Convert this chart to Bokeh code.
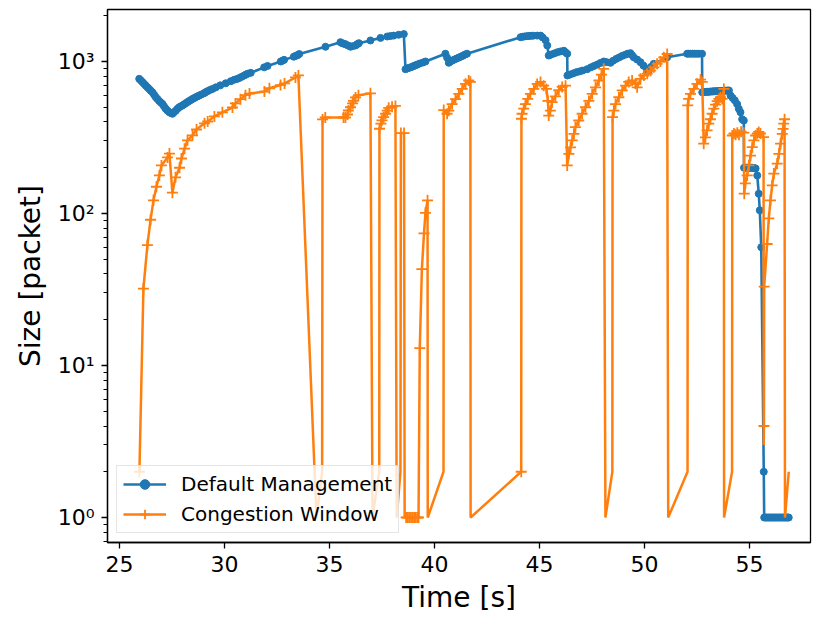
from bokeh.plotting import figure
from bokeh.models import Range1d, FixedTicker, Legend, LegendItem
from bokeh.embed import file_html
from bokeh.resources import INLINE

# Default Management (time [s], size [packet])
t_default = [25.94, 26.02, 26.10, 26.18, 26.25, 26.33, 26.41, 26.49, 26.57, 26.65, 26.73, 26.81,
             26.89, 26.97, 27.05, 27.12, 27.20, 27.28, 27.37, 27.45, 27.52, 27.60, 27.68, 27.76,
             27.84, 27.92, 28.00, 28.08, 28.16, 28.24, 28.32, 28.40, 28.48, 28.55, 28.63, 28.72,
             28.80, 28.90, 29.03, 29.10, 29.19, 29.30, 29.43, 29.59, 29.80, 30.06, 30.30, 30.46,
             30.60, 30.70, 30.82, 30.94, 31.02, 31.10, 31.25, 31.89, 32.05, 32.68, 32.76, 32.84,
             33.30, 33.40, 33.48, 33.56, 34.81, 35.52, 35.60, 35.68, 35.76, 35.88, 36.00, 36.10,
             36.24, 36.32, 36.40, 36.95, 37.43, 37.75, 37.90, 38.06, 38.30, 38.54,
             38.62, 38.70, 38.78, 38.86, 38.95, 39.02, 39.10, 39.18, 39.30, 39.45, 39.57,
             40.52, 40.60, 40.68, 40.76, 40.85, 40.95, 41.05, 41.15, 41.25, 41.35, 41.45, 41.55,
             44.10, 44.20, 44.30, 44.40, 44.50, 44.60, 44.70, 44.89, 45.05, 45.15, 45.29, 45.37,
             45.44, 45.55, 45.70, 45.85, 46.00, 46.16, 46.24, 46.32, 46.33, 46.45, 46.60, 46.75,
             46.90, 47.05, 47.27, 47.45, 47.60, 47.75, 47.90, 48.06, 48.20, 48.38, 48.50, 48.65,
             48.80, 48.95, 49.10, 49.20, 49.33, 49.41, 49.49, 49.65, 49.81, 49.95, 50.10, 50.20,
             50.30, 50.44, 51.08, 52.03, 52.10, 52.20, 52.30, 52.40, 52.50, 52.60, 52.74,
             52.75, 52.82, 52.88, 52.95, 53.02, 53.08, 53.15, 53.22, 53.28, 53.35, 53.42, 53.48,
             53.55, 53.62, 53.68, 53.75, 53.82, 53.88, 53.95, 54.02, 54.10, 54.20, 54.30, 54.41,
             54.49, 54.57, 54.65, 54.73, 54.74, 54.80, 54.85, 54.90, 54.95, 55.00, 55.05, 55.10,
             55.15, 55.22, 55.29, 55.37, 55.44, 55.49, 55.56, 55.68, 55.70, 55.76, 55.82, 55.88,
             55.94, 56.00, 56.06, 56.12, 56.18, 56.24, 56.30, 56.36, 56.42, 56.48, 56.54, 56.60,
             56.66, 56.72, 56.78, 56.83, 56.87]
y_default = [769, 750, 731, 712, 694, 677, 660, 643, 627, 605, 582, 566,
             550, 537, 525, 507, 489, 476, 464, 458, 453, 464, 475, 488,
             500, 507, 514, 523, 532, 541, 550, 558, 567, 574, 582, 590,
             597, 607, 618, 628, 638, 649, 660, 676, 697, 719, 742, 758,
             768, 778, 793, 809, 820, 831, 842, 915, 935, 1000, 1012, 1025,
             1075, 1090, 1100, 1120, 1250, 1340, 1320, 1310, 1300, 1275, 1250, 1262,
             1275, 1300, 1320, 1375, 1430, 1460, 1470, 1480, 1500, 1515,
             890, 900, 908, 915, 925, 935, 945, 955, 970, 985, 1000,
             1125, 1060, 980, 1000, 1015, 1030, 1045, 1060, 1075, 1090, 1110, 1125,
             1445, 1455, 1462, 1468, 1472, 1476, 1478, 1480, 1480, 1440, 1380, 1275,
             1095, 1110, 1130, 1150, 1165, 1177, 1150, 1125, 809, 820, 835, 850,
             860, 872, 890, 915, 935, 955, 978, 1000, 990, 980, 1010, 1040,
             1065, 1090, 1110, 1125, 1135, 1100, 1065, 1030, 990, 940, 890, 870,
             920, 965, 1065, 1125, 1125, 1125, 1125, 1125, 1125, 1125, 1125,
             627, 629, 630, 631, 632, 633, 634, 635, 636, 637, 638, 638,
             639, 640, 640, 641, 642, 643, 644, 645, 597, 575, 555, 525,
             489, 464, 417, 409, 200, 200, 200, 200, 200, 200, 200, 200,
             200, 199, 198, 178, 135, 105, 60, 2, 1, 1, 1, 1,
             1, 1, 1, 1, 1, 1, 1, 1, 1, 1, 1, 1,
             1, 1, 1, 1, 1]

# Congestion Window (time [s], size [packet])
t_cwnd = [25.95, 26.14, 26.33, 26.48, 26.62, 26.76, 26.90, 27.00, 27.29, 27.38, 27.52, 27.67,
          27.86, 27.95, 28.10, 28.24, 28.48, 28.67, 29.05, 29.20, 29.52, 29.90, 30.38, 30.52,
          30.76, 31.00, 31.19, 31.90, 32.14, 32.67, 32.86, 33.38, 33.52,
          34.38, 34.65, 34.67, 34.80, 35.67, 35.76, 35.86, 35.90, 36.00, 36.10, 36.14, 36.24,
          36.38, 36.95, 37.05, 37.37, 37.38, 37.45, 37.50, 37.58, 37.67, 37.75, 37.82, 37.98,
          38.14, 38.20, 38.38, 38.40, 38.55, 38.58, 38.65, 38.73, 38.80, 38.88, 38.95, 39.03,
          39.10, 39.18, 39.24, 39.30, 39.40, 39.50, 39.57, 39.67, 39.68, 40.43,
          40.44, 40.60, 40.68, 40.84, 41.00, 41.16, 41.32, 41.48, 41.63, 41.71, 41.72, 44.13,
          44.14, 44.17, 44.25, 44.33, 44.44, 44.57, 44.73, 44.89, 45.05, 45.20, 45.33, 45.40,
          45.44, 45.52, 45.60, 45.76, 45.92, 46.08, 46.24, 46.32, 46.40, 46.48, 46.56, 46.64,
          46.71, 46.87, 47.03, 47.19, 47.35, 47.51, 47.67, 47.83, 47.95, 48.06, 48.14, 48.47,
          48.48, 48.54, 48.62, 48.78, 48.94, 49.10, 49.25, 49.41, 49.57, 49.65, 49.81, 49.97,
          50.13, 50.29, 50.44, 50.60, 50.76, 50.92, 51.08, 51.13, 52.05,
          52.06, 52.10, 52.19, 52.35, 52.50, 52.67, 52.75, 52.82, 52.90, 52.98, 53.06, 53.14,
          53.22, 53.30, 53.38, 53.46, 53.54, 53.62, 53.70, 53.78, 53.79, 54.17,
          54.18, 54.26, 54.34, 54.42, 54.50, 54.60, 54.73, 54.75, 54.80, 54.89, 54.97, 55.05,
          55.13, 55.21, 55.29, 55.37, 55.44, 55.52, 55.67, 55.68, 55.69, 55.70, 55.84, 55.92,
          56.00, 56.08, 56.16, 56.32, 56.40, 56.48, 56.56, 56.60, 56.63, 56.67, 56.69, 56.87]
y_cwnd = [2, 32, 62, 91, 122, 150, 178, 207, 234, 248, 137, 173,
          200, 230, 267, 303, 327, 357, 392, 403, 435, 463, 498, 530,
          565, 600, 615, 634, 667, 700, 717, 785, 810,
          1, 2, 416, 428, 428, 428, 448, 476, 500, 530, 550, 580,
          600, 617, 1, 2, 361, 390, 410, 430, 453, 475, 496, 503,
          510, 1, 2, 338, 338, 1, 1, 1, 1, 1, 1, 1,
          1, 1, 1, 13, 43, 74, 101, 122, 1, 2,
          479, 453, 475, 525, 565, 612, 660, 713, 750, 735, 1, 2,
          420, 453, 489, 525, 567, 613, 660, 712, 734, 693, 660, 550,
          441, 475, 540, 590, 647, 680, 693, 207, 247, 272, 303, 334,
          370, 409, 453, 500, 550, 612, 676, 750, 820, 895, 1, 2,
          430, 475, 525, 582, 645, 693, 734, 750, 713, 676, 769, 809,
          831, 870, 915, 965, 1000, 1065, 1120, 1, 2,
          514, 567, 613, 660, 713, 760, 734, 288, 317, 352, 390, 417,
          453, 489, 521, 548, 567, 582, 567, 660, 1, 2,
          326, 336, 330, 340, 330, 345, 340, 135, 158, 178, 207, 240,
          273, 303, 326, 336, 344, 336, 318, 3, 4, 33, 63, 93,
          122, 153, 183, 213, 247, 288, 334, 360, 390, 417, 1, 2]
# times of the low turning points that show no "+" marker in the picture
t_cwnd_unmarked = [34.38, 34.65, 37.05, 37.37, 38.20, 38.38, 38.58, 39.68, 40.43, 41.72,
                   48.14, 48.47, 51.13, 52.05, 53.79, 54.17, 55.68, 56.69, 56.87]

x_ticks = [25, 30, 35, 40, 45, 50, 55]
y_ticks = [1, 10, 100, 1000]
y_tick_labels = ["10\u2070", "10\u00b9", "10\u00b2", "10\u00b3"]
y_minor = [0.7, 0.8, 0.9, 2, 3, 4, 5, 6, 7, 8, 9, 20, 30, 40, 50, 60, 70, 80, 90,
           200, 300, 400, 500, 600, 700, 800, 900, 2000]

BLUE = "#1f77b4"
ORANGE = "#ff7f0e"
FONT = "DejaVu Sans"

mk = [(t, y) for t, y in zip(t_cwnd, y_cwnd) if t not in t_cwnd_unmarked]
t_mk = [a for a, _ in mk]
y_mk = [b for _, b in mk]

p = figure(width=813, height=619, y_axis_type="log", output_backend="svg",
           toolbar_location=None, x_range=Range1d(24.43, 57.905),
           y_range=Range1d(0.685, 2198),
           min_border_left=107, min_border_right=3, min_border_top=9, min_border_bottom=77)

p.background_fill_color = "white"
p.border_fill_color = "white"
p.outline_line_color = "black"
p.outline_line_width = 1.3
p.xgrid.visible = False
p.ygrid.visible = False

l1 = p.line(t_default, y_default, line_color=BLUE, line_width=2.6)
s1 = p.scatter(t_default, y_default, marker="circle", size=7, fill_color=BLUE, line_color=BLUE)
l2 = p.line(t_cwnd, y_cwnd, line_color=ORANGE, line_width=2.5)
s2 = p.scatter(t_mk, y_mk, marker="cross", size=11, line_color=ORANGE, line_width=1.8)

legend = Legend(items=[LegendItem(label="Default Management", renderers=[l1, s1]),
                       LegendItem(label="Congestion Window", renderers=[l2, s2])],
                location="bottom_left")
legend.label_text_font = FONT
legend.label_text_font_size = "20px"
legend.label_text_color = "black"
legend.glyph_width = 43
legend.glyph_height = 24
legend.label_height = 24
legend.spacing = 6
legend.padding = 6
legend.margin = 9
legend.label_standoff = 15
legend.border_line_color = "#cccccc"
legend.border_line_width = 1
legend.background_fill_color = "white"
legend.background_fill_alpha = 0.8
p.add_layout(legend)

p.xaxis.ticker = FixedTicker(ticks=x_ticks, minor_ticks=[])
p.yaxis.ticker = FixedTicker(ticks=y_ticks, minor_ticks=y_minor)
p.yaxis.major_label_overrides = {v: s for v, s in zip(y_ticks, y_tick_labels)}

for ax in (p.xaxis, p.yaxis):
    ax.axis_line_width = 1.3
    ax.axis_line_color = "black"
    ax.major_tick_line_width = 1.3
    ax.major_tick_line_color = "black"
    ax.minor_tick_line_width = 1.0
    ax.minor_tick_line_color = "black"
    ax.major_tick_in = 0
    ax.major_tick_out = 6
    ax.minor_tick_in = 0
    ax.minor_tick_out = 4
    ax.major_label_text_font = FONT
    ax.major_label_text_font_size = "22px"
    ax.major_label_text_color = "black"
    ax.axis_label_text_font = FONT
    ax.axis_label_text_font_size = "28px"
    ax.axis_label_text_font_style = "normal"
    ax.axis_label_text_color = "black"

p.xaxis.axis_label = "Time [s]"
p.yaxis.axis_label = "Size [packet]"
p.xaxis.major_label_standoff = 7
p.yaxis.major_label_standoff = 7
p.xaxis.axis_label_standoff = 6
p.yaxis.axis_label_standoff = 8

open("out.html", "w").write(file_html(p, INLINE))
